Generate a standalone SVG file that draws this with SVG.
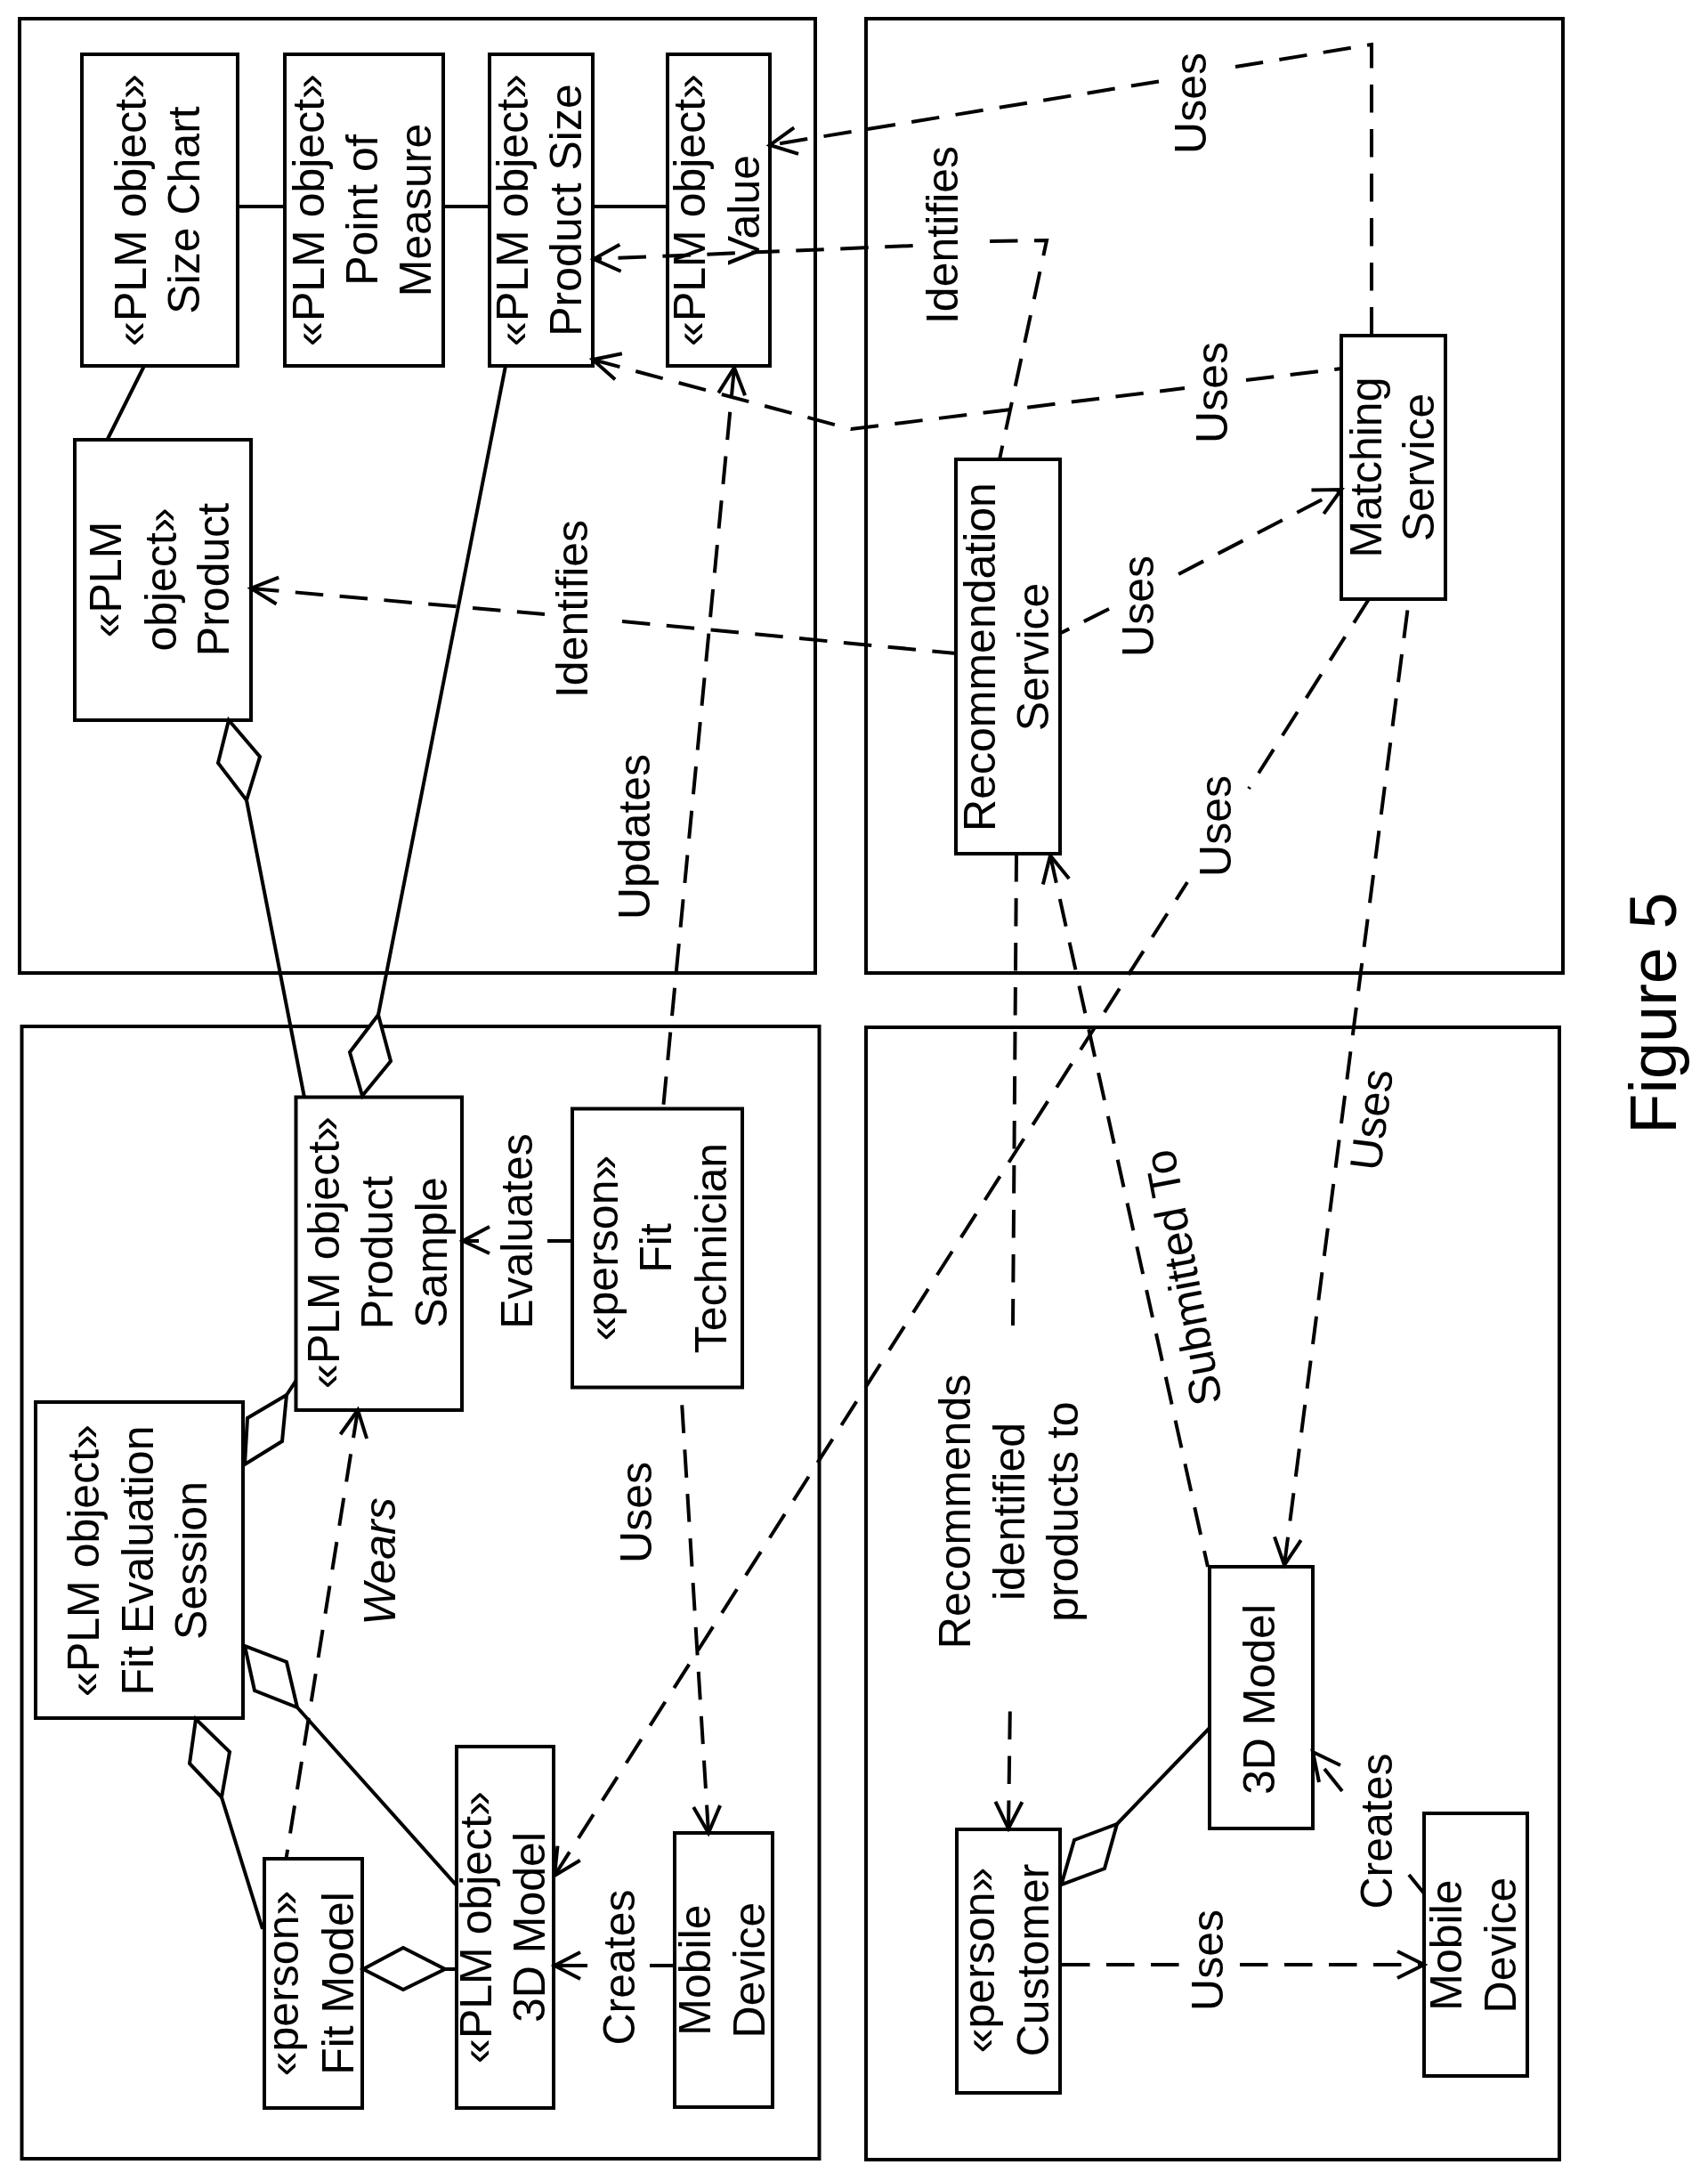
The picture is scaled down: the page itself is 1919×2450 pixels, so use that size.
<svg xmlns="http://www.w3.org/2000/svg" width="1919" height="2450" viewBox="0 0 1919 2450">
<style>
text{font-family:"Liberation Sans",Arial,sans-serif;font-size:50px;fill:#000;text-anchor:middle}
.panel{fill:none;stroke:#000;stroke-width:4}
.box{fill:#fff;stroke:#000;stroke-width:4}
.solid{fill:none;stroke:#000;stroke-width:4}
.dash{fill:none;stroke:#000;stroke-width:4;stroke-dasharray:31.500 18.500}
.arr{marker-start:url(#arrow)}
.arre{marker-end:url(#arrow)}
.dia{fill:#fff;stroke:#000;stroke-width:4;stroke-linejoin:miter}
</style>
<defs>
<marker id="arrow" markerUnits="userSpaceOnUse" markerWidth="44" markerHeight="44" refX="36" refY="22" orient="auto-start-reverse"><path d="M6 7L36 22L6 37" fill="none" stroke="#000" stroke-width="4"/></marker>
</defs>
<rect width="1919" height="2450" fill="#fff"/>
<g id="panels">
<rect class="panel" x="22" y="21" width="894" height="1072"/>
<rect class="panel" x="973" y="21" width="783" height="1072"/>
<rect class="panel" x="24.500" y="1153" width="896" height="1272"/>
<rect class="panel" x="973" y="1154" width="779" height="1272"/>
</g>
<g id="size-chart"><rect class="box" x="92" y="61" width="175" height="350"/><text transform="translate(0,236) rotate(-90)"><tspan x="0" y="164">«PLM object»</tspan><tspan x="0" y="223.500">Size Chart</tspan></text></g>
<g id="point-of-measure"><rect class="box" x="320" y="61" width="178" height="350"/><text transform="translate(0,236) rotate(-90)"><tspan x="0" y="364">«PLM object»</tspan><tspan x="0" y="424">Point of</tspan><tspan x="0" y="484">Measure</tspan></text></g>
<g id="product-size"><rect class="box" x="550" y="61" width="116" height="350"/><text transform="translate(0,236) rotate(-90)"><tspan x="0" y="593">«PLM object»</tspan><tspan x="0" y="653">Product Size</tspan></text></g>
<g id="value"><rect class="box" x="750" y="61" width="115" height="350"/><text transform="translate(0,236) rotate(-90)"><tspan x="0" y="792">«PLM object»</tspan><tspan x="0" y="853">Value</tspan></text></g>
<g id="product"><rect class="box" x="84" y="494" width="198" height="315"/><text transform="translate(0,651) rotate(-90)"><tspan x="0" y="136">«PLM</tspan><tspan x="0" y="198">object»</tspan><tspan x="0" y="257">Product</tspan></text></g>
<g id="recommendation-service"><rect class="box" x="1074" y="516" width="117" height="443"/><text transform="translate(0,738) rotate(-90)"><tspan x="0" y="1118">Recommendation</tspan><tspan x="0" y="1178">Service</tspan></text></g>
<g id="matching-service"><rect class="box" x="1507" y="377" width="117" height="296"/><text transform="translate(0,525) rotate(-90)"><tspan x="0" y="1552">Matching</tspan><tspan x="0" y="1611">Service</tspan></text></g>
<g id="product-sample"><rect class="box" x="332.500" y="1232.500" width="186.500" height="351.500"/><text transform="translate(0,1407) rotate(-90)"><tspan x="0" y="381">«PLM object»</tspan><tspan x="0" y="441">Product</tspan><tspan x="0" y="501.500">Sample</tspan></text></g>
<g id="fit-technician"><rect class="box" x="643" y="1245.500" width="191" height="313"/><text transform="translate(0,1402) rotate(-90)"><tspan x="0" y="694">«person»</tspan><tspan x="0" y="754">Fit</tspan><tspan x="0" y="816">Technician</tspan></text></g>
<g id="fit-evaluation-session"><rect class="box" x="40" y="1575" width="233" height="355"/><text transform="translate(0,1753) rotate(-90)"><tspan x="0" y="111">«PLM object»</tspan><tspan x="0" y="171.500">Fit Evaluation</tspan><tspan x="0" y="231.500">Session</tspan></text></g>
<g id="fit-model"><rect class="box" x="297" y="2088" width="110" height="280"/><text transform="translate(0,2228) rotate(-90)"><tspan x="0" y="335">«person»</tspan><tspan x="0" y="396.500">Fit Model</tspan></text></g>
<g id="plm-3d-model"><rect class="box" x="513" y="1962" width="109" height="406"/><text transform="translate(0,2165) rotate(-90)"><tspan x="0" y="551.500">«PLM object»</tspan><tspan x="0" y="612">3D Model</tspan></text></g>
<g id="mobile-device-left"><rect class="box" x="758" y="2059" width="110" height="308"/><text transform="translate(0,2213) rotate(-90)"><tspan x="0" y="798">Mobile</tspan><tspan x="0" y="859">Device</tspan></text></g>
<g id="customer-3d-model"><rect class="box" x="1359" y="1760" width="116" height="294"/><text transform="translate(1432,1909) rotate(-90)">3D Model</text></g>
<g id="customer"><rect class="box" x="1075" y="2055" width="116" height="296"/><text transform="translate(0,2202) rotate(-90)"><tspan x="0" y="1117">«person»</tspan><tspan x="0" y="1178">Customer</tspan></text></g>
<g id="mobile-device-right"><rect class="box" x="1600" y="2037" width="116" height="295"/><text transform="translate(0,2185) rotate(-90)"><tspan x="0" y="1642">Mobile</tspan><tspan x="0" y="1703">Device</tspan></text></g>
<g id="connectors">
<path class="solid" d="M267 232H320M498 232H550M666 232H750M162 411L121 493"/>
<path class="solid" d="M568 411L425 1140M277 899L342 1233M249 2019L295 2167M334 1918L513 2118M500 2212H513M322 1567L332.500 1551M1255 2049L1359 1941"/>
<path class="dia" d="M257 809L245 857L277 899L292 850Z"/>
<path class="dia" d="M407 1231L439 1192L425 1140L393 1182Z"/>
<path class="dia" d="M408 2212L453 2188L500 2212L453 2235Z"/>
<path class="dia" d="M220 1931L213 1981L249 2019L258 1968Z"/>
<path class="dia" d="M275 1849L286 1899L334 1918L322 1867Z"/>
<path class="dia" d="M275 1645L317 1619L322 1567L278 1593Z"/>
<path class="dia" d="M1192.500 2117L1241 2099L1255 2049L1207 2067Z"/>
<path class="dash arr" style="stroke-dashoffset:38.700" d="M865 163L1302 91.500"/>
<path class="dash" d="M1388 75L1541 50L1541 377"/>
<path class="dash arr" style="stroke-dashoffset:22.500" d="M667 291L1026 276"/>
<path class="dash" d="M1112 271L1176 270L1123 516"/>
<path class="dash arr" d="M666 404L956 482L1331 436"/>
<path class="dash" d="M1400 427L1507 414"/>
<path class="dash arr" d="M282 661L612 690"/>
<path class="dash" d="M699 698L1074 734"/>
<path class="dash arr" style="stroke-dashoffset:25.500" d="M1507 550L1324 645"/>
<path class="dash" d="M1246 684L1192 711"/>
<path class="dash" d="M1538 673L1403 886"/>
<path class="dash arr" d="M623 2107L1334 991"/>
<path class="dash arr" d="M1443 1758L1583 673"/>
<path class="dash arr" d="M1180 961L1357 1760"/>
<path class="dash" d="M1142 959L1138 1489"/>
<path class="dash arr" d="M1133 2054L1135 1909"/>
<path class="dash arr" d="M825 413L745 1245.500"/>
<path class="solid" d="M643 1394H615M550 1378L520 1394L550 1408M520 1394H538"/>
<path class="dash arr" d="M796 2059L765 1558.500"/>
<path class="dash arr" d="M402 1584L321.500 2088"/>
<path class="solid" d="M758 2208H730M652 2193L623 2208L652 2223M623 2208H660"/>
<path class="dash" d="M1193 2207H1325"/>
<path class="dash arre" d="M1393 2207H1600"/>
<path class="solid" d="M1600 2127L1583 2106M1506 1983L1475 1968L1482 2002M1488 1987L1508 2012"/>
</g>
<g id="labels">
<text transform="translate(660,684) rotate(-90)">Identifies</text>
<text transform="translate(730,940) rotate(-90)">Updates</text>
<text transform="translate(1354.500,116) rotate(-90)">Uses</text>
<text transform="translate(1076,264) rotate(-90)">Identifies</text>
<text transform="translate(1379,441) rotate(-90)">Uses</text>
<text transform="translate(1296,681) rotate(-90)">Uses</text>
<text transform="translate(1383,928) rotate(-90)">Uses</text>
<text transform="translate(598,1383) rotate(-90)">Evaluates</text>
<text transform="translate(444,1754) rotate(-90)" font-style="italic">Wears</text>
<text transform="translate(732,1699) rotate(-90)">Uses</text>
<text transform="translate(713,2210) rotate(-90)">Creates</text>
<text transform="translate(0,1698) rotate(-90)"><tspan x="0" y="1090">Recommends</tspan><tspan x="0" y="1151">identified</tspan><tspan x="0" y="1211">products to</tspan></text>
<text transform="translate(1346,1432) rotate(-100.800)">Submitted To</text>
<text transform="translate(1558,1260) rotate(-82.700)">Uses</text>
<text transform="translate(1564,2057) rotate(-90)">Creates</text>
<text transform="translate(1374,2202) rotate(-90)">Uses</text>
<text transform="translate(1883,1138) rotate(-90)" style="font-size:74px">Figure 5</text>
</g>
</svg>
